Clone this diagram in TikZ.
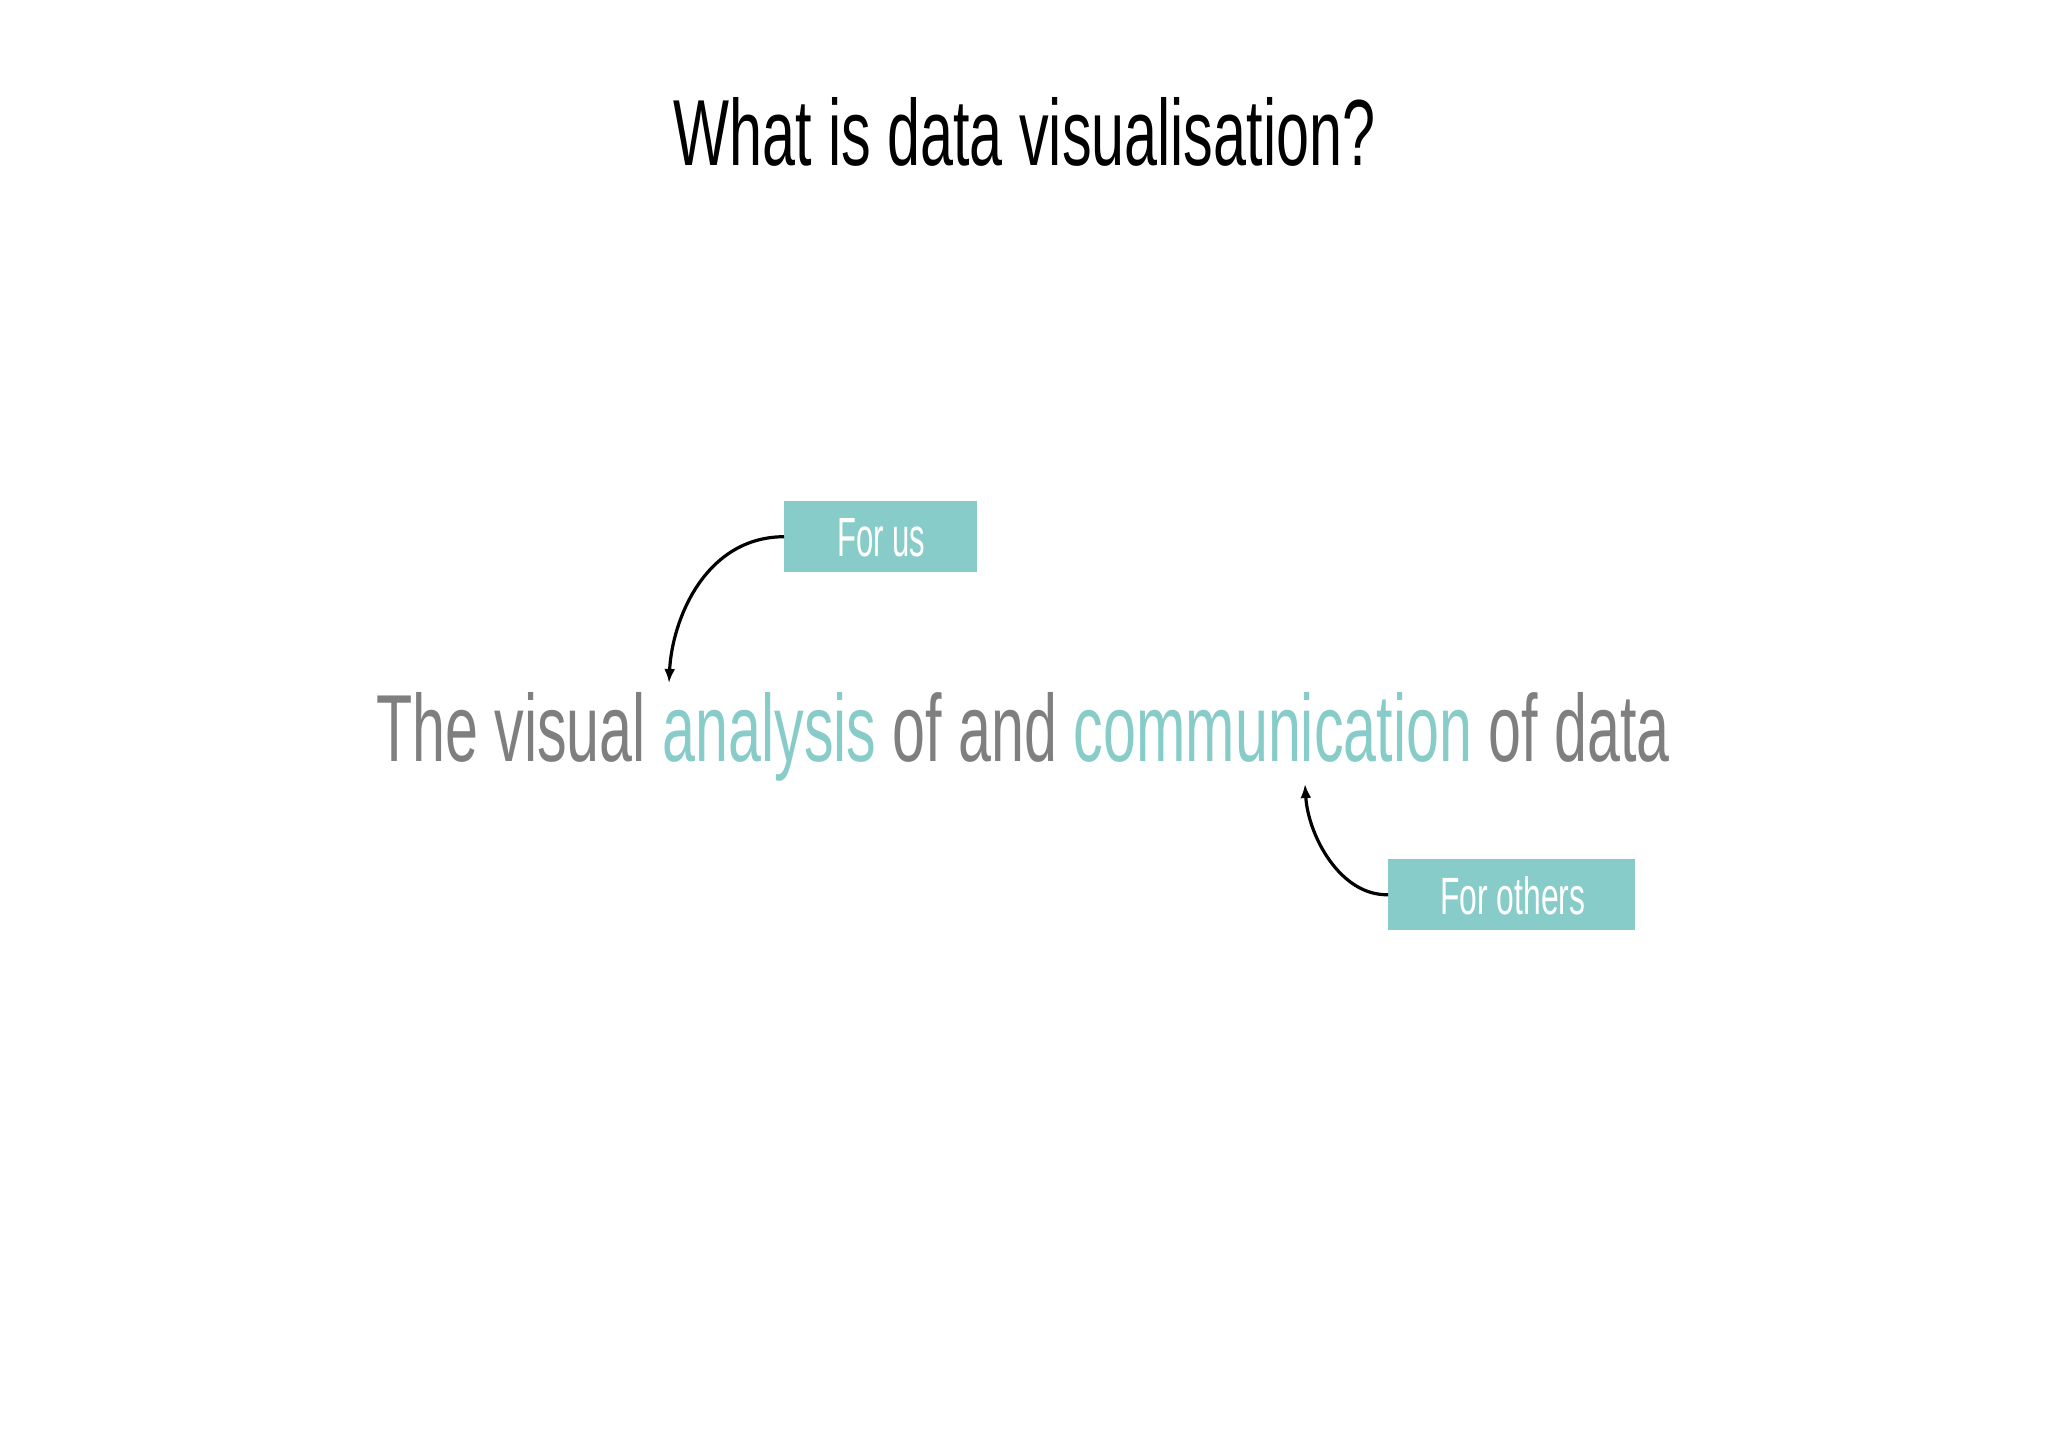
\documentclass[tikz,border=0pt]{standalone}
\usepackage{fontspec}
\setmainfont{Liberation Sans}
\usetikzlibrary{arrows.meta}
\definecolor{teal1}{HTML}{88CCCA}
\definecolor{gray1}{HTML}{7F7F7F}
\tikzset{txt/.style={inner sep=0pt,anchor=base west},
  lbl/.style={fill=teal1,minimum width=#1,minimum height=71pt,inner sep=0pt,anchor=north west},
  conn/.style={line width=3.2pt,-{Latex[length=14pt,width=11pt]}}}
\begin{document}
\begin{tikzpicture}[x=1pt,y=-1pt]
\useasboundingbox[fill=white] (0,0) rectangle (2048,1447);
\node[txt] (title) at (673,166) {\resizebox{702pt}{68pt}{What is data visualisation?}};
\node[txt,text=gray1] (main) at (376,761) {\resizebox{1293pt}{69pt}{The visual \textcolor{teal1}{analysis} of and \textcolor{teal1}{communication} of data}};
\node[lbl=193pt] (forus) at (784,501) {};
\node[txt,text=white] (forust) at (837,556) {\resizebox{88pt}{38pt}{For us}};
\node[lbl=247pt] (forothers) at (1388,859) {};
\node[txt,text=white] (forotherst) at (1440,914) {\resizebox{145pt}{38pt}{For others}};
\coordinate (a1) at (669,683);
\coordinate (a2) at (1305,784);
\draw[conn] (forus.west) .. controls (705,537) and (672,620) .. (a1);
\draw[conn] (forothers.west) .. controls (1340,896) and (1308,835) .. (a2);
\end{tikzpicture}
\end{document}
